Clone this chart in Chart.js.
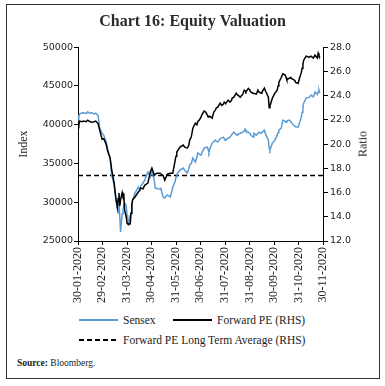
<!DOCTYPE html>
<html lang="en">
<head>
<meta charset="UTF-8">
<title>Chart 16: Equity Valuation</title>
<style>
    * {
        box-sizing: border-box;
    }

    body {
        margin: 0;
        width: 385px;
        height: 386px;
        overflow: hidden;
        position: relative;
        background: #fff;
        color: #222;
        font-family: 'Liberation Serif', serif;
    }

    .frame {
        position: absolute;
        left: 6px;
        top: 4px;
        width: 374px;
        height: 375px;
        border: 1.5px solid #333;
    }

    .chart-box {
        position: absolute;
        left: 0;
        top: 0;
    }

    /* right axis title reads bottom to top, like the left one */
    .ratio-title {
        position: absolute;
        left: 363px;
        top: 144px;
        font-size: 12px;
        white-space: nowrap;
        transform: translate(-50%, -50%) rotate(-90deg);
    }

    .legend {
        position: absolute;
        left: 79px;
        top: 310px;
        width: 300px;
        white-space: nowrap;
        font-size: 11.5px;
    }

    .legend-row {
        display: flex;
        align-items: center;
        height: 20px;
    }

    .legend-item {
        display: flex;
        align-items: center;
        flex-shrink: 0;
    }

    .legend-row:first-child .legend-item:first-child {
        width: 94px;
    }

    .swatch {
        flex-shrink: 0;
        width: 39px;
        height: 2px;
        margin-right: 5px;
    }

    .source {
        position: absolute;
        left: 17px;
        top: 358px;
        font-size: 9.5px;
    }
</style>
</head>
<body>
<div class="frame"></div>
<div class="chart-box">
    <canvas id="valuationChart" width="385" height="310"></canvas>
</div>
<div class="ratio-title">Ratio</div>
<div class="legend" id="legend"></div>
<div class="source"><b>Source:</b> Bloomberg.</div>

<script src="https://cdn.jsdelivr.net/npm/chart.js"></script>
<script>
    // day of year 2020 (1 = 1 Jan)
    const days = [30, 31, 32, 35, 37, 40, 42, 45, 47, 50, 52, 55, 57, 60, 62, 65, 67, 70, 72, 75,
        77, 79, 80, 81, 82, 83, 85, 86, 87, 88, 90, 91, 92, 93, 95, 96, 97, 98, 101, 105,
        107, 108, 111, 113, 117, 120, 122, 125, 126, 128, 130, 132, 133, 136, 138, 141, 142, 145, 148, 151,
        152, 153, 157, 161, 163, 166, 168, 169, 171, 173, 176, 178, 179, 181, 183, 184, 187, 189, 191, 192,
        193, 194, 197, 199, 201, 202, 204, 207, 209, 211, 212, 213, 214, 217, 219, 221, 222, 224, 227, 228,
        229, 232, 234, 235, 237, 238, 239, 242, 244, 245, 248, 249, 252, 254, 255, 258, 259, 262, 264, 267,
        268, 269, 272, 275, 278, 279, 280, 283, 285, 288, 289, 290, 293, 295, 296, 299, 300, 301, 304, 306,
        308, 309, 310, 311, 314, 318, 320, 323, 325, 328, 329, 330, 331];

    const sensex = [41240, 41000, 41400, 41500, 41550, 41450, 41660, 41500, 41550, 41400, 41500, 41200, 39600, 38900, 38660, 37800, 36800, 35700, 33500, 32200,
        30500, 29200, 28600, 29900, 28200, 26160, 28500, 29000, 29500, 29900, 29600, 28350, 27800, 27300, 28200, 28600, 29500, 30300, 31200, 31960,
        31570, 32100, 32470, 32860, 33900, 33300, 34100, 32800, 31830, 31800, 31700, 31750, 31800, 30670, 30540, 30930, 30900, 30670, 31960, 32700,
        33250, 33600, 34150, 34400, 34100, 33760, 34300, 34800, 35000, 35700, 35180, 35800, 36340, 36200, 36080, 36300, 36980, 37050, 37110, 36800,
        36470, 36900, 37630, 37800, 38010, 37900, 37760, 38200, 38300, 38400, 38200, 38000, 38100, 38250, 38400, 38660, 38800, 39050, 38700, 38660,
        38800, 38900, 39000, 39050, 39200, 39430, 39200, 39050, 38900, 38660, 38400, 38900, 38660, 38900, 39050, 38900, 38900, 39300, 38660, 38000,
        37000, 36730, 37630, 38000, 38660, 39000, 39300, 39560, 40590, 40400, 40330, 40500, 40590, 40400, 40200, 39900, 39820, 39750, 39690, 40300,
        40980, 41600, 42270, 42800, 43430, 43560, 43820, 43600, 44200, 43900, 44300, 44460, 44070];

    const forwardPE = [21.7, 21.55, 21.9, 21.85, 21.9, 21.85, 21.98, 21.85, 21.8, 21.85, 21.9, 21.7, 21.15, 20.4, 20.45, 20.0, 19.4, 18.85, 17.86, 16.8,
        15.6, 14.8, 15.5, 15.96, 14.9, 15.4, 16.0, 15.7, 15.8, 14.56, 14.0, 13.48, 13.4, 13.4, 13.4, 14.3, 15.0, 15.4, 15.63, 16.04,
        16.2, 16.37, 16.3, 16.6, 16.78, 17.7, 18.02, 17.44, 17.5, 17.6, 17.6, 17.6, 17.55, 17.4, 17.03, 17.5, 17.55, 17.6, 17.6, 18.68,
        19.0, 19.34, 19.75, 19.92, 19.75, 19.67, 19.9, 20.33, 20.58, 21.32, 21.73, 21.6, 21.85, 21.98, 22.2, 22.39, 22.72, 22.64, 22.4, 22.23,
        22.3, 22.3, 22.14, 22.64, 22.8, 22.97, 23.05, 23.38, 23.2, 23.3, 23.46, 23.4, 23.38, 23.63, 23.46, 23.6, 23.8, 23.88, 24.2, 24.1,
        24.04, 23.88, 24.04, 24.1, 24.45, 24.4, 24.3, 24.6, 24.45, 24.3, 24.2, 24.2, 24.12, 24.45, 24.3, 24.2, 24.3, 24.62, 24.3, 23.88,
        23.0, 23.15, 23.8, 24.2, 24.45, 24.8, 25.1, 25.5, 25.8, 25.7, 25.5, 25.3, 25.44, 25.5, 25.4, 25.3, 25.2, 25.1, 25.0, 25.5,
        25.9, 26.27, 26.6, 26.93, 27.26, 27.18, 27.26, 27.1, 27.34, 27.1, 27.5, 27.3, 27.1];

    const peLongTermAvg = 17.4;

    // month-end ticks on the x axis
    const tickDays = [30, 60, 91, 121, 152, 182, 213, 244, 274, 305, 335];
    const tickLabels = ['30-01-2020', '29-02-2020', '31-03-2020', '30-04-2020', '31-05-2020', '30-06-2020',
        '31-07-2020', '31-08-2020', '30-09-2020', '31-10-2020', '30-11-2020'];

    const sensexColor = '#5b9bd5';
    const peColor = '#000';
    const tickFont = { family: 'DejaVu Sans', size: 9.5 };
    const serifFont = { family: 'Liberation Serif', size: 12 };

    const toPoints = (ys) => days.map((d, i) => ({ x: d, y: ys[i] }));

    const ctx = document.getElementById('valuationChart').getContext('2d');
    const chart = new Chart(ctx, {
        type: 'line',
        data: {
            datasets: [{
                label: 'Sensex',
                data: toPoints(sensex),
                yAxisID: 'y',
                borderColor: sensexColor,
                borderWidth: 1.5,
                pointRadius: 0,
                order: 2
            }, {
                label: 'Forward PE (RHS)',
                data: toPoints(forwardPE),
                yAxisID: 'y1',
                borderColor: peColor,
                borderWidth: 1.5,
                pointRadius: 0,
                order: 1
            }, {
                label: 'Forward PE Long Term Average (RHS)',
                data: [{ x: tickDays[0], y: peLongTermAvg }, { x: tickDays[tickDays.length - 1], y: peLongTermAvg }],
                yAxisID: 'y1',
                borderColor: peColor,
                borderWidth: 1.5,
                borderDash: [5, 3],
                pointRadius: 0,
                order: 3
            }]
        },
        options: {
            responsive: false,
            animation: false,
            layout: { padding: 0 },
            plugins: {
                legend: { display: false },
                tooltip: { enabled: false },
                title: {
                    display: true,
                    text: 'Chart 16: Equity Valuation',
                    color: '#2b2b2b',
                    font: { family: 'Liberation Serif', size: 16, weight: 'bold' },
                    padding: { top: 12, bottom: 16 }
                }
            },
            scales: {
                x: {
                    type: 'linear',
                    min: tickDays[0],
                    max: tickDays[tickDays.length - 1],
                    afterBuildTicks: (axis) => {
                        axis.ticks = tickDays.map(v => ({ value: v }));
                    },
                    afterFit: (axis) => { axis.height = 69; },
                    ticks: {
                        autoSkip: false,
                        minRotation: 90,
                        maxRotation: 90,
                        padding: 2,
                        color: '#222',
                        font: serifFont,
                        callback: (value, index) => tickLabels[index]
                    },
                    grid: { drawOnChartArea: false, tickLength: 4, color: '#000' },
                    border: { color: '#000' }
                },
                y: {
                    position: 'left',
                    min: 25000,
                    max: 50000,
                    afterFit: (axis) => { axis.width = 78; },
                    ticks: {
                        stepSize: 5000,
                        padding: 1,
                        color: '#222',
                        font: tickFont,
                        callback: (value) => String(value)
                    },
                    grid: { drawOnChartArea: false, tickLength: 4, color: '#000' },
                    border: { color: '#000' },
                    title: { display: true, text: 'Index', color: '#222', font: serifFont, padding: { top: 17 } }
                },
                y1: {
                    position: 'right',
                    min: 12,
                    max: 28,
                    afterFit: (axis) => { axis.width = 62; },
                    ticks: {
                        stepSize: 2,
                        padding: 2,
                        color: '#222',
                        font: tickFont,
                        callback: (value) => value.toFixed(1)
                    },
                    grid: { drawOnChartArea: false, tickLength: 5, color: '#000' },
                    border: { color: '#000' }
                }
            }
        }
    });

    // legend below the chart, built from the datasets
    function swatchStyle(ds) {
        if (ds.borderDash) {
            return 'background: repeating-linear-gradient(to right, ' + ds.borderColor + ' 0 5px, transparent 5px 8px);';
        }
        return 'background: ' + ds.borderColor + ';';
    }

    function legendItem(ds) {
        return '<div class="legend-item"><span class="swatch" style="' + swatchStyle(ds) + '"></span>' + ds.label + '</div>';
    }

    const sets = chart.data.datasets;
    document.getElementById('legend').innerHTML =
        '<div class="legend-row">' + legendItem(sets[0]) + legendItem(sets[1]) + '</div>' +
        '<div class="legend-row">' + legendItem(sets[2]) + '</div>';
</script>
</body>
</html>
